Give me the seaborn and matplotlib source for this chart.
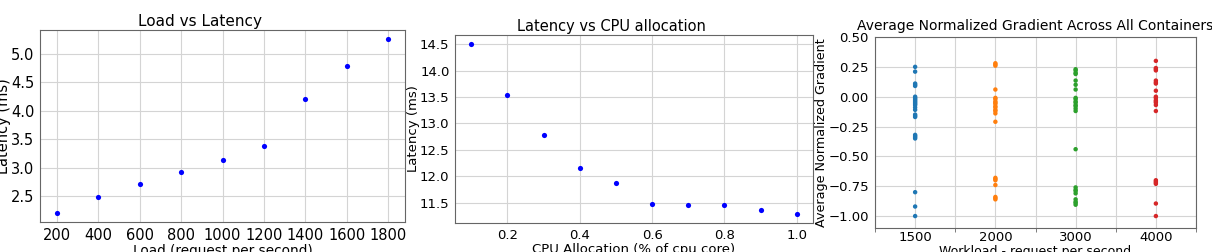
import numpy as np
import pandas as pd
import matplotlib
matplotlib.use("Agg")
import matplotlib.pyplot as plt
import seaborn as sns

# Load vs latency
load_rps = [200, 400, 600, 800, 1000, 1200, 1400, 1600, 1800]
load_latency = [2.20, 2.49, 2.72, 2.92, 3.14, 3.38, 4.21, 4.78, 5.26]

# Latency vs CPU allocation
cpu_alloc = [0.1, 0.2, 0.3, 0.4, 0.5, 0.6, 0.7, 0.8, 0.9, 1.0]
cpu_latency = [14.51, 13.54, 12.78, 12.16, 11.88, 11.47, 11.45, 11.45, 11.36, 11.28]

# Average normalized gradient per workload
workloads = ["1500", "2000", "3000", "4000"]
grad_1500 = [0.25, 0.21, 0.11, 0.10, 0.09, 0.0, -0.01, -0.02, -0.03, -0.04, -0.05,
             -0.06, -0.07, -0.09, -0.11, -0.15, -0.16, -0.17, -0.32, -0.33, -0.34,
             -0.35, -0.80, -0.92, -1.00]
grad_2000 = [0.28, 0.27, 0.26, 0.06, -0.01, -0.02, -0.04, -0.05, -0.06, -0.08,
             -0.09, -0.11, -0.12, -0.14, -0.21, -0.68, -0.69, -0.70, -0.74, -0.84,
             -0.85, -0.86]
grad_3000 = [0.23, 0.22, 0.20, 0.19, 0.135, 0.10, 0.06, -0.01, -0.02, -0.04, -0.05,
             -0.07, -0.08, -0.10, -0.12, -0.44, -0.76, -0.78, -0.79, -0.81, -0.86,
             -0.88, -0.89, -0.905]
grad_4000 = [0.30, 0.24, 0.23, 0.22, 0.135, 0.12, 0.11, 0.05, 0.0, -0.01, -0.03,
             -0.04, -0.05, -0.07, -0.12, -0.70, -0.71, -0.72, -0.73, -0.895, -1.00]

grad_df = pd.DataFrame({
    "workload": (["1500"] * len(grad_1500) + ["2000"] * len(grad_2000)
                 + ["3000"] * len(grad_3000) + ["4000"] * len(grad_4000)),
    "gradient": grad_1500 + grad_2000 + grad_3000 + grad_4000,
})

sns.set_style("whitegrid", {"axes.edgecolor": "#666666", "grid.color": "#d4d4d4",
                            "text.color": "black", "axes.labelcolor": "black"})
plt.rcParams["font.family"] = ["DejaVu Sans"]

W, H = 1212, 252
fig = plt.figure(figsize=(W / 100, H / 100), dpi=100)

def box(l, r, t, b):
    return [l / W, (H - b) / H, (r - l) / W, (b - t) / H]

# plot 1
ax1 = fig.add_axes(box(40, 405, 30, 222))
sns.scatterplot(x=load_rps, y=load_latency, color="blue", s=14, linewidth=0, ax=ax1)
ax1.set_xticks(load_rps)
ax1.set_yticks([2.5, 3.0, 3.5, 4.0, 4.5, 5.0])
ax1.set_title("Load vs Latency", fontsize=11, pad=3, x=0.438)
ax1.set_xlabel("Load (request per second)", fontsize=9.8, labelpad=1)
ax1.set_ylabel("Latency (ms)", fontsize=10.5, labelpad=0)
ax1.tick_params(labelsize=10.5, length=2.5, color="#cccccc", labelcolor="black", pad=1.5)

# plot 2
ax2 = fig.add_axes(box(455, 813, 35, 223))
sns.scatterplot(x=cpu_alloc, y=cpu_latency, color="blue", s=14, linewidth=0, ax=ax2)
ax2.set_xticks([0.2, 0.4, 0.6, 0.8, 1.0])
ax2.set_yticks([11.5, 12.0, 12.5, 13.0, 13.5, 14.0, 14.5])
ax2.set_title("Latency vs CPU allocation", fontsize=10.5, pad=3, x=0.436)
ax2.set_xlabel("CPU Allocation (% of cpu core)", fontsize=9.5, labelpad=1)
ax2.set_ylabel("Latency (ms)", fontsize=9.5, labelpad=0)
ax2.tick_params(labelsize=9.5, length=2.5, color="#cccccc", labelcolor="black", pad=1.5)

# plot 3
ax3 = fig.add_axes(box(875, 1196, 37, 228))
sns.stripplot(data=grad_df, x="workload", y="gradient", hue="workload",
              order=workloads, hue_order=workloads, palette="tab10",
              jitter=False, size=3.2, linewidth=0, legend=False, ax=ax3)
ax3.set_xlim(-0.5, 3.5)
ax3.set_ylim(-1.1, 0.5)
ax3.set_yticks([0.5, 0.25, 0.0, -0.25, -0.5, -0.75, -1.0])
ax3.set_xticks([-0.5, 0.5, 1.5, 2.5, 3.5], minor=True)
ax3.grid(True, which="both", axis="x")
ax3.grid(True, axis="y")
ax3.set_title("Average Normalized Gradient Across All Containers", fontsize=10, pad=5)
ax3.set_xlabel("Workload - request per second", fontsize=9, labelpad=1)
ax3.set_ylabel("Average Normalized Gradient", fontsize=9.2, labelpad=0)
ax3.tick_params(labelsize=9.5, pad=2, labelcolor="black")
ax3.tick_params(axis="x", which="major", length=0)
ax3.tick_params(axis="x", which="minor", length=3, color="#666666", bottom=True)
ax3.tick_params(axis="y", length=2.5, color="#666666")

fig.savefig("out.png", dpi=100)
